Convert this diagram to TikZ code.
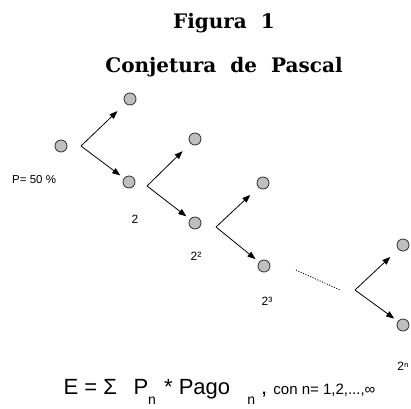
\documentclass[tikz,border=0pt]{standalone}
\usepackage{fontspec}
\setmainfont{Liberation Sans}
\newfontfamily\titlefont{DejaVu Serif}
\usetikzlibrary{arrows.meta, calc}

\newcommand{\lowsub}[1]{\raisebox{-10pt}{\fontsize{14}{14}\selectfont #1}}

\begin{document}
\begin{tikzpicture}[x=1pt, y=-1pt,
    ball/.style={circle, draw=black!75, fill=black!25, line width=0.9pt, minimum size=12pt, inner sep=0pt},
    uparr/.style={-{Triangle[length=8pt,width=6pt]}, line width=0.8pt, shorten >=11pt},
    downarr/.style={-{Triangle[length=8pt,width=6pt]}, line width=0.8pt, shorten >=4.5pt},
    lbl/.style={font=\fontsize{12}{12}\selectfont, anchor=base, inner sep=0pt},
    titl/.style={font={\titlefont\bfseries\fontsize{20}{20}\selectfont\spaceskip=14pt\relax}, anchor=base, inner sep=0pt}]
    \useasboundingbox (0,0) rectangle (411,408);

    \node[titl] (fig) at (224,28) {Figura 1};
    \node[titl] (conj) at (224,72) {Conjetura de Pascal};

    % tree
    \node[ball] (n0) at (61,146) {};
    \node[ball] (n1u) at (130,99) {};
    \node[ball] (n1d) at (129,182) {};
    \node[ball] (n2u) at (195,139) {};
    \node[ball] (n2d) at (195,223) {};
    \node[ball] (n3u) at (263,183) {};
    \node[ball] (n3d) at (264,266) {};
    \node[ball] (n4u) at (403,245) {};
    \node[ball] (n4d) at (403,325) {};

    \coordinate (b0) at ($(n0)+(20,0)$);
    \coordinate (b1) at ($(n1d)+(18,4)$);
    \coordinate (b2) at ($(n2d)+(21,4)$);
    \coordinate (b3) at (355,290);
    \coordinate (d0) at (296,270);
    \coordinate (d1) at (340,290);

    \draw[uparr] (b0) -- (n1u);
    \draw[downarr] (b0) -- (n1d);
    \draw[uparr] (b1) -- (n2u);
    \draw[downarr] (b1) -- (n2d);
    \draw[uparr] (b2) -- (n3u);
    \draw[downarr] (b2) -- (n3d);
    \draw[line width=0.9pt, dash pattern=on 1pt off 1.6pt] (d0) -- (d1);
    \draw[uparr] (b3) -- (n4u);
    \draw[downarr] (b3) -- (n4d);

    \node[lbl, font=\fontsize{11.5}{12}\selectfont, anchor=base west] (pct) at (12,183) {P= 50 \%};
    \node[lbl] (l1) at (135,223) {2};
    \node[lbl] (l2) at (196,260) {2²};
    \node[lbl] (l3) at (267,305) {2³};
    \node[lbl] (l4) at (403,370) {2ⁿ};

    \node[anchor=base west, inner sep=0pt, font=\fontsize{22}{22}\selectfont] (expect) at (63.5,394)
        {E = Σ\hspace{10.4pt} P\lowsub{n}\hspace{2pt} * Pago \hspace{11pt}\lowsub{n} , {\fontsize{15}{15}\selectfont con n= 1,2,...,∞}};
\end{tikzpicture}
\end{document}
